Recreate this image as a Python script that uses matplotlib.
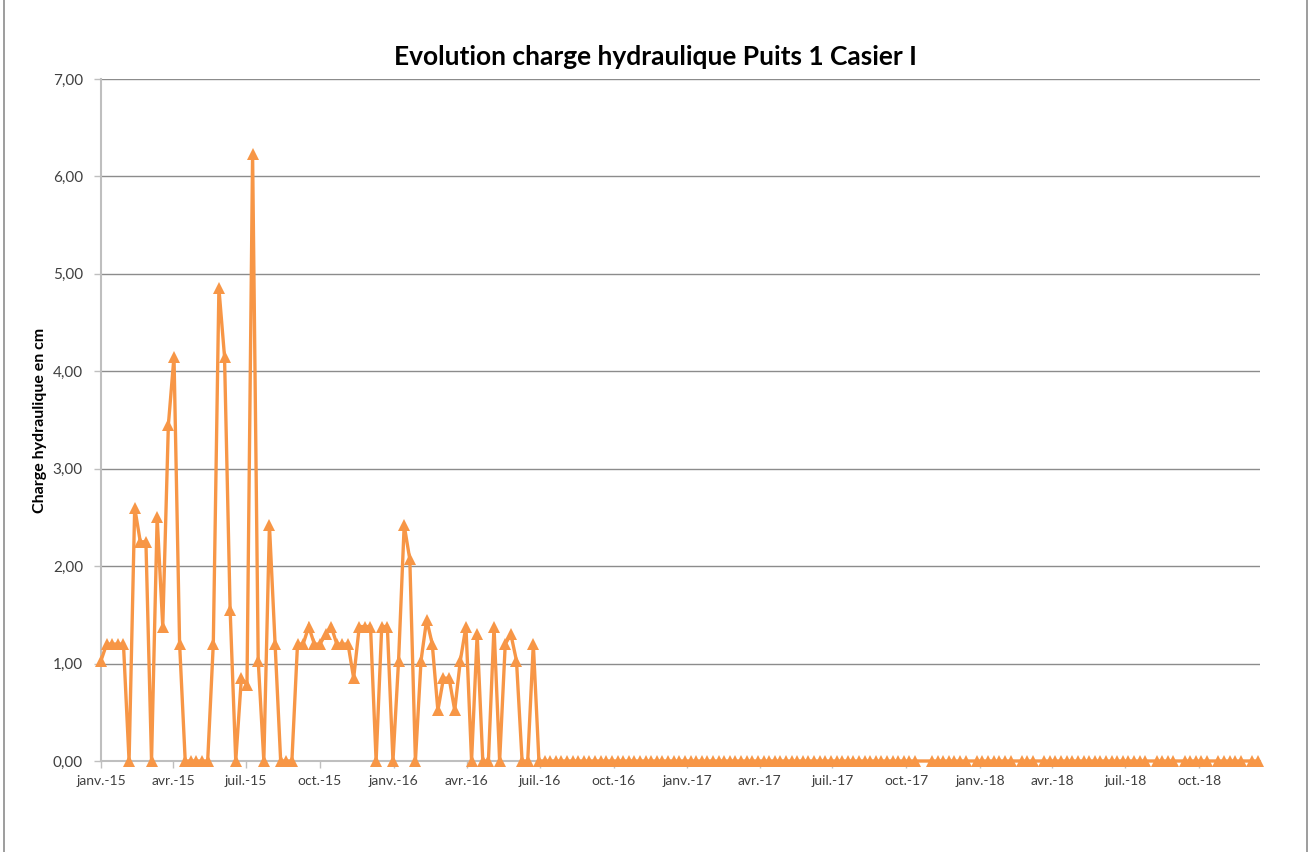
import pandas as pd
import numpy as np
import matplotlib
matplotlib.use('Agg')
import matplotlib.pyplot as plt
from matplotlib.lines import Line2D

# weekly readings, first one on 1 Jan 2015
start_date = '2015-01-01'
n_weeks = 207
# weeks without a reading (line just joins the neighbours)
missing_weeks = [146, 147, 155, 163, 167, 187, 192, 198, 204]

# hydraulic head in cm, one value per reading
charge = [
    1.03, 1.20, 1.20, 1.20, 1.20, 0.00, 2.60, 2.25, 2.25, 0.00,
    2.50, 1.38, 3.45, 4.15, 1.20, 0.00, 0.00, 0.00, 0.00, 0.00,
    1.20, 4.85, 4.15, 1.55, 0.00, 0.85, 0.78, 6.23, 1.03, 0.00,
    2.42, 1.20, 0.00, 0.00, 0.00, 1.20, 1.20, 1.38, 1.20, 1.20,
    1.30, 1.38, 1.20, 1.20, 1.20, 0.85, 1.38, 1.38, 1.38, 0.00,
    1.38, 1.38, 0.00, 1.03, 2.42, 2.07, 0.00, 1.03, 1.45, 1.20,
    0.52, 0.85, 0.85, 0.52, 1.03, 1.38, 0.00, 1.30, 0.00, 0.00,
    1.38, 0.00, 1.20, 1.30, 1.03, 0.00, 0.00, 1.20, 0.00,
    # from July 2016 on the well stays dry
    0.00, 0.00, 0.00, 0.00, 0.00, 0.00, 0.00, 0.00, 0.00, 0.00,
    0.00, 0.00, 0.00, 0.00, 0.00, 0.00, 0.00, 0.00, 0.00, 0.00,
    0.00, 0.00, 0.00, 0.00, 0.00, 0.00, 0.00, 0.00, 0.00, 0.00,
    0.00, 0.00, 0.00, 0.00, 0.00, 0.00, 0.00, 0.00, 0.00, 0.00,
    0.00, 0.00, 0.00, 0.00, 0.00, 0.00, 0.00, 0.00, 0.00, 0.00,
    0.00, 0.00, 0.00, 0.00, 0.00, 0.00, 0.00, 0.00, 0.00, 0.00,
    0.00, 0.00, 0.00, 0.00, 0.00, 0.00, 0.00, 0.00, 0.00, 0.00,
    0.00, 0.00, 0.00, 0.00, 0.00, 0.00, 0.00, 0.00, 0.00, 0.00,
    0.00, 0.00, 0.00, 0.00, 0.00, 0.00, 0.00, 0.00, 0.00, 0.00,
    0.00, 0.00, 0.00, 0.00, 0.00, 0.00, 0.00, 0.00, 0.00, 0.00,
    0.00, 0.00, 0.00, 0.00, 0.00, 0.00, 0.00, 0.00, 0.00, 0.00,
    0.00, 0.00, 0.00, 0.00, 0.00, 0.00, 0.00, 0.00, 0.00, 0.00,
]

tick_dates = ['2015-01-01', '2015-04-01', '2015-07-01', '2015-10-01',
              '2016-01-01', '2016-04-01', '2016-07-01', '2016-10-01',
              '2017-01-01', '2017-04-01', '2017-07-01', '2017-10-01',
              '2018-01-01', '2018-04-01', '2018-07-01', '2018-10-01']
tick_labels = ['janv.-15', 'avr.-15', 'juil.-15', 'oct.-15',
               'janv.-16', 'avr.-16', 'juil.-16', 'oct.-16',
               'janv.-17', 'avr.-17', 'juil.-17', 'oct.-17',
               'janv.-18', 'avr.-18', 'juil.-18', 'oct.-18']

all_weeks = pd.date_range(start_date, periods=n_weeks, freq='7D')
dates = all_weeks.delete(missing_weeks)
charge = charge[:len(dates)]
df = pd.DataFrame({'Date': dates[:len(charge)], 'Charge': charge})

plt.rcParams['font.family'] = ['Lato', 'DejaVu Sans']

fig = plt.figure(figsize=(13.11, 8.52), dpi=100)
ax = fig.add_axes([101 / 1311, 91 / 852, 1159 / 1311, 682 / 852])

ax.plot(df['Date'], df['Charge'], color='#F79646', lw=2.4, marker='^',
        markersize=8.5, markeredgewidth=0, solid_joinstyle='miter',
        clip_on=False, zorder=3)

ax.set_ylim(0, 7)
ax.set_yticks(np.arange(0, 8, 1))
ax.set_yticklabels([f'{v:.2f}'.replace('.', ',') for v in range(0, 8)],
                   fontsize=11, color='#404040')
ax.set_xlim(df['Date'].iloc[0], df['Date'].iloc[-1] + pd.Timedelta(days=3))
ax.set_xticks(pd.to_datetime(tick_dates))
ax.set_xticklabels(tick_labels, fontsize=10, color='#404040')

ax.yaxis.grid(True, color='#8C8C8C', lw=1)
ax.set_axisbelow(True)
for s in ['top', 'right']:
    ax.spines[s].set_visible(False)
ax.spines['left'].set_color('#BFBFBF')
ax.spines['left'].set_linewidth(1.5)
ax.spines['bottom'].set_color('#BFBFBF')
ax.spines['bottom'].set_linewidth(1.5)
ax.tick_params(axis='both', direction='out', length=5, color='#BFBFBF', width=1)
ax.tick_params(axis='y', pad=8)
ax.tick_params(axis='x', pad=5)

ax.set_ylabel('Charge hydraulique en cm', fontsize=11.5, fontweight='bold',
              labelpad=4)
fig.text(655 / 1311, 1 - 57 / 852, 'Evolution charge hydraulique Puits 1 Casier I',
         ha='center', va='center', fontsize=19, fontweight='bold')

# chart area frame
fig.add_artist(Line2D([4 / 1311, 4 / 1311], [0, 1], color='#8C8C8C', lw=1.2))
fig.add_artist(Line2D([1307 / 1311, 1307 / 1311], [0, 1], color='#8C8C8C', lw=1.2))

fig.savefig('out.png', dpi=100)
